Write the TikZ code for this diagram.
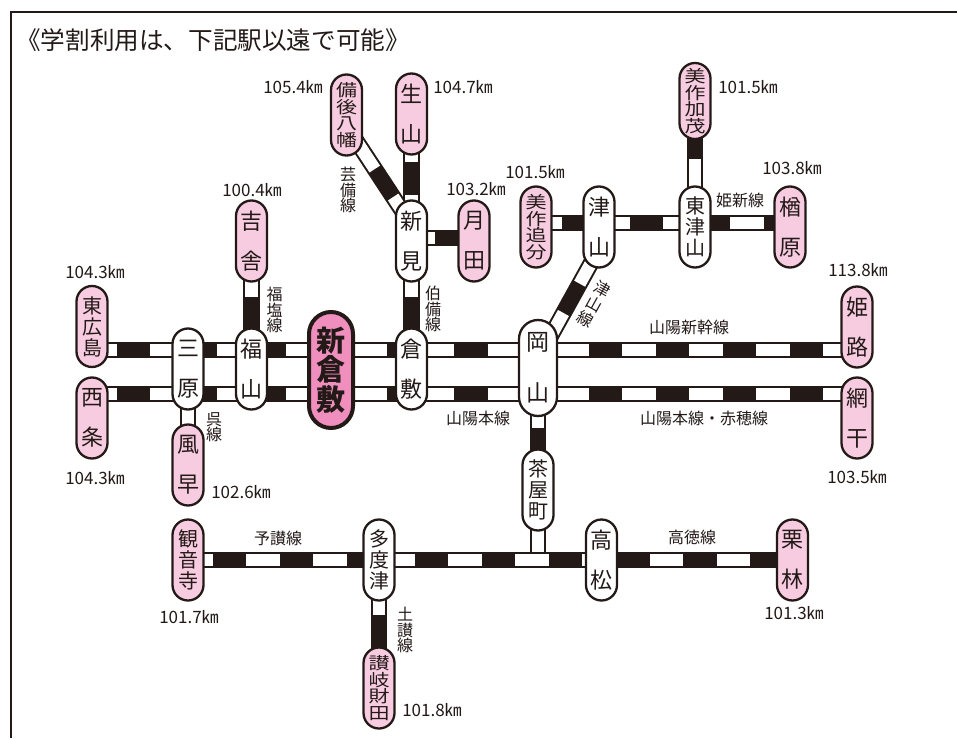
\documentclass[tikz,border=0pt]{standalone}
\usepackage{fontspec}
\setmainfont{Noto Sans CJK JP}
\usepackage{graphicx}
\usetikzlibrary{calc}
\definecolor{ink}{RGB}{35,26,24}
\definecolor{pinkL}{RGB}{248,204,224}
\definecolor{pinkD}{RGB}{240,142,190}
\pgfdeclarelayer{back}
\pgfdeclarelayer{bg}
\pgfsetlayers{back,bg,main}
\tikzset{
 stn/.style={draw=ink, line width=2.3pt, fill=white, rounded corners=15.5pt,
   minimum width=31pt, minimum height=81pt, inner sep=0pt, align=center, text=ink},
 twoch/.style={font=\fontsize{22}{40}\selectfont},
 threech/.style={font=\fontsize{20}{21}\selectfont},
 fourch/.style={font=\fontsize{21}{16.5}\selectfont},
 dest/.style={fill=pinkL},
 bigstn/.style={minimum width=38pt, minimum height=96pt, rounded corners=19pt, font=\fontsize{23}{51}\selectfont},
 shinstn/.style={draw=ink, line width=4pt, fill=pinkD, rounded corners=22pt,
   minimum width=44pt, minimum height=116pt, inner sep=0pt, align=center, text=ink,
   font=\fontsize{29}{29.5}\selectfont\bfseries},
 km/.style={font=\fontsize{17}{17}\selectfont, inner sep=0pt, text=ink},
 lbl/.style={font=\fontsize{16}{15.5}\selectfont, inner sep=0pt, align=center, text=ink},
 railbase/.style={draw=ink, line width=16.5pt},
 railwhite/.style={draw=white, line width=12.5pt, dash pattern=on 33.5pt off 33.5pt},
 frameline/.style={draw=ink, line width=2.4pt},
}
\newcommand\trk[3]{\draw[railbase] #1 -- #2; \draw[railwhite, dash phase=#3pt] #1 -- #2;}
\newcommand\sq[1]{\scalebox{1}[0.8]{#1}}
\begin{document}
\begin{tikzpicture}[x=1pt,y=-1pt]
\useasboundingbox (0,0) rectangle (957,738);
\begin{pgfonlayer}{back}
\fill[white] (0,0) rectangle (957,738);
\end{pgfonlayer}
\draw[frameline] (10.7,738) -- (10.7,12) -- (957,12);
\node[anchor=west, font=\fontsize{24.6}{25}\selectfont, inner sep=0pt, text=ink] (title) at (16,40) {《学割利用は、下記駅以遠で可能》};

% stations
\node[stn,dest,fourch] (bingo) at (346.5,115) {\sq{備}\\\sq{後}\\\sq{八}\\\sq{幡}};
\node[stn,dest,twoch] (shoyama) at (411.5,114) {生\\山};
\node[stn,twoch] (niimi) at (411.5,241) {新\\見};
\node[stn,dest,twoch] (tsukida) at (474,241) {月\\田};
\node[stn,dest,twoch] (kisa) at (251.5,241) {吉\\舎};
\node[stn,dest,fourch,minimum height=76pt] (kamo) at (695,101) {\sq{美}\\\sq{作}\\\sq{加}\\\sq{茂}};
\node[stn,threech] (higashitsuyama) at (695,227) {東\\津\\山};
\node[stn,twoch] (tsuyama) at (599,227) {津\\山};
\node[stn,dest,fourch] (oiwake) at (536,227) {\sq{美}\\\sq{作}\\\sq{追}\\\sq{分}};
\node[stn,dest,twoch] (narahara) at (790,227) {楢\\原};
\node[stn,dest,threech] (higashihiroshima) at (92,326.5) {東\\広\\島};
\node[stn,dest,twoch] (saijo) at (92,418) {西\\条};
\node[stn,twoch] (mihara) at (188,369) {三\\原};
\node[stn,twoch] (fukuyama) at (251.5,369) {福\\山};
\node[shinstn] (shinkurashiki) at (331,370) {新\\倉\\敷};
\node[stn,twoch] (kurashiki) at (411.5,369) {倉\\敷};
\node[stn,bigstn] (okayama) at (538,368) {岡\\山};
\node[stn,dest,twoch] (himeji) at (857,327) {姫\\路};
\node[stn,dest,twoch] (aboshi) at (857,418) {網\\干};
\node[stn,dest,twoch] (kazahaya) at (188,465) {風\\早};
\node[stn,threech] (chayamachi) at (538,490) {茶\\屋\\町};
\node[stn,dest,threech] (kanonji) at (188,560) {観\\音\\寺};
\node[stn,threech] (tadotsu) at (379,560) {多\\度\\津};
\node[stn,twoch] (takamatsu) at (601.5,560) {高\\松};
\node[stn,dest,twoch] (ritsurin) at (792.5,560) {栗\\林};
\node[stn,dest,fourch] (zaida) at (379,688) {\sq{讃}\\\sq{岐}\\\sq{財}\\\sq{田}};

% distances
\node[km] (k1) at (293,87) {105.4㎞};
\node[km] (k2) at (463,87) {104.7㎞};
\node[km] (k3) at (252,190) {100.4㎞};
\node[km] (k4) at (476,189) {103.2㎞};
\node[km] (k5) at (748,87) {101.5㎞};
\node[km] (k6) at (535,172) {101.5㎞};
\node[km] (k7) at (792,168) {103.8㎞};
\node[km] (k8) at (95,272) {104.3㎞};
\node[km] (k9) at (95,478) {104.3㎞};
\node[km] (k10) at (858,270) {113.8㎞};
\node[km] (k11) at (857,477) {103.5㎞};
\node[km] (k12) at (241,492) {102.6㎞};
\node[km] (k13) at (189,617) {101.7㎞};
\node[km] (k14) at (794,613) {101.3㎞};
\node[km] (k15) at (432,710) {101.8㎞};

% line labels
\node[lbl] (lgeibi) at (348,190) {芸\\備\\線};
\node[lbl] (lfukuen) at (274.5,310) {福\\塩\\線};
\node[lbl] (lhakubi) at (433,309) {伯\\備\\線};
\node[lbl] (lkure) at (214,427) {呉\\線};
\node[lbl] (ldosan) at (405,630) {土\\讃\\線};
\node[lbl,rotate=-29,font=\fontsize{16}{17.5}\selectfont] (ltsuyama) at (594,304) {津\\山\\線};
\node[lbl] (lkishin) at (740,200) {姫新線};
\node[lbl] (lshinkansen) at (689,327) {山陽新幹線};
\node[lbl] (lsanyo) at (478,418) {山陽本線};
\node[lbl] (lsanyoako) at (704,418) {山陽本線・赤穂線};
\node[lbl] (lyosan) at (278,538) {予讃線};
\node[lbl] (lkotoku) at (692,537) {高徳線};

% tracks
\coordinate (shinY) at (0,350);
\coordinate (honY) at (0,394);
\coordinate (jct) at (538,560);
\begin{pgfonlayer}{bg}
\trk{(kisa.center)}{(fukuyama.center)}{44.8}
\trk{(niimi.center)}{(kurashiki.center)}{44.8}
\trk{(shoyama.center)}{(niimi.center)}{52.8}
\trk{([yshift=3pt]niimi.center)}{([yshift=3pt]tsukida.center)}{10}
\trk{([yshift=-11pt]bingo.center)}{([yshift=16pt]niimi.center)}{49}
\trk{(kamo.center)}{(higashitsuyama.center)}{8.7}
\trk{([xshift=4.8pt,yshift=-13pt]tsuyama.center)}{([xshift=5pt,yshift=18pt]okayama.center)}{50.6}
\trk{([yshift=4pt]oiwake.center)}{([yshift=4pt]tsuyama.center)}{7.8}
\trk{([yshift=4pt]tsuyama.center)}{([yshift=4pt]higashitsuyama.center)}{2.7}
\trk{([yshift=4pt]higashitsuyama.center)}{([yshift=4pt]narahara.center)}{32}
\trk{(mihara.center)}{(kazahaya.center)}{37}
\trk{(okayama.center)}{(chayamachi.center)}{40.5}
\trk{(chayamachi.center)}{(jct)}{32}
\trk{(kanonji.center)}{(tadotsu.center)}{9}
\trk{(tadotsu.center)}{(takamatsu.center)}{64.7}
\trk{(takamatsu.center)}{(ritsurin.center)}{18.7}
\trk{(tadotsu.center)}{(zaida.center)}{45.5}
\trk{(higashihiroshima.center |- shinY)}{(mihara.center |- shinY)}{9}
\trk{(saijo.center |- honY)}{(mihara.center |- honY)}{9}
\trk{(mihara.center |- shinY)}{(fukuyama.center |- shinY)}{38.3}
\trk{(mihara.center |- honY)}{(fukuyama.center |- honY)}{38.3}
\trk{(fukuyama.center |- shinY)}{(shinkurashiki.center |- shinY)}{33}
\trk{(fukuyama.center |- honY)}{(shinkurashiki.center |- honY)}{33}
\trk{(shinkurashiki.center |- shinY)}{(kurashiki.center |- shinY)}{44.8}
\trk{(shinkurashiki.center |- honY)}{(kurashiki.center |- honY)}{44.8}
\trk{(kurashiki.center |- shinY)}{(okayama.center |- shinY)}{58}
\trk{(kurashiki.center |- honY)}{(okayama.center |- honY)}{58}
\trk{(okayama.center |- shinY)}{(himeji.center |- shinY)}{50}
\trk{(okayama.center |- honY)}{(aboshi.center |- honY)}{50}
\end{pgfonlayer}
\end{tikzpicture}
\end{document}
